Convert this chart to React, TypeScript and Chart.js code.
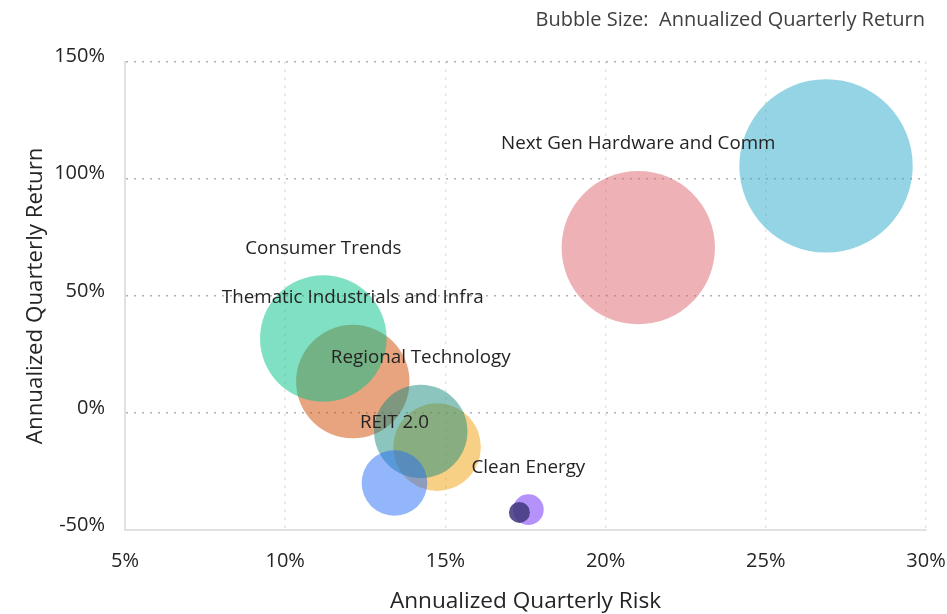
import React, { useEffect, useRef } from "react";
import { Chart, registerables } from "chart.js";

Chart.register(...registerables);

// Bubble order (drawing order): cyan, pink, sienna, mint, yellow, teal, blue, purple, navy
const bubbleLabels: string[] = [
  "",
  "Next Gen Hardware and Comm",
  "Thematic Industrials and Infra",
  "Consumer Trends",
  "",
  "Regional Technology",
  "REIT 2.0",
  "Clean Energy",
  "",
];
const riskValues: number[] = [26.88, 21.02, 12.11, 11.19, 14.74, 14.23, 13.41, 17.59, 17.31];
const returnValues: number[] = [105.5, 70.6, 13.4, 31.8, -14.6, -7.9, -29.9, -41.3, -42.5];
const bubbleRadius: number[] = [86.7, 76.7, 56.7, 63.3, 43.8, 46.7, 32.8, 15.3, 10.5];
const bubbleColors: string[] = [
  "rgba(41,169,203,0.5)",
  "rgba(221,101,109,0.5)",
  "rgba(209,71,0,0.5)",
  "rgba(0,193,137,0.5)",
  "rgba(239,159,11,0.5)",
  "rgba(23,139,125,0.5)",
  "rgba(39,107,245,0.5)",
  "rgba(107,35,245,0.5)",
  "rgba(68,58,128,0.88)",
];
const xTicks: number[] = [5, 10, 15, 20, 25, 30];
const yTicks: number[] = [-50, 0, 50, 100, 150];
const chartNote = "Bubble Size:  Annualized Quarterly Return";
const xTitle = "Annualized Quarterly Risk";
const yTitle = "Annualized Quarterly Return";

const FONT = "'Open Sans', 'Noto Sans', sans-serif";

export default function App() {
  const canvasRef = useRef<HTMLCanvasElement | null>(null);

  useEffect(() => {
    const canvas = canvasRef.current;
    if (!canvas) return;

    const noOverflowPlugin = {
      id: "noOverflow",
      beforeElementsUpdate(chart: any) {
        chart.data.datasets.forEach((_d: any, i: number) => {
          const meta = chart.getDatasetMeta(i);
          if (meta && meta.controller) meta.controller.getMaxOverflow = () => 0;
        });
      },
    };

    const labelPlugin = {
      id: "bubbleLabels",
      afterDatasetsDraw(chart: any) {
        const ctx = chart.ctx;
        const xs = chart.scales.x;
        const ys = chart.scales.y;
        ctx.save();
        ctx.font = `18.8px ${FONT}`;
        ctx.fillStyle = "#252423";
        ctx.textAlign = "center";
        ctx.textBaseline = "middle";
        bubbleLabels.forEach((lbl, i) => {
          if (!lbl) return;
          const px = xs.getPixelForValue(riskValues[i]);
          const py = ys.getPixelForValue(returnValues[i]);
          ctx.fillText(lbl, px, py - bubbleRadius[i] - 27);
        });
        ctx.restore();
      },
      afterDraw(chart: any) {
        const ctx = chart.ctx;
        ctx.save();
        ctx.font = `20px ${FONT}`;
        ctx.fillStyle = "#404040";
        ctx.textAlign = "right";
        ctx.textBaseline = "middle";
        ctx.fillText(chartNote, 925, 20);
        ctx.restore();
      },
    };

    const chart = new Chart(canvas, {
      type: "bubble",
      data: {
        datasets: [
          {
            data: riskValues.map((x, i) => ({ x, y: returnValues[i], r: bubbleRadius[i] })),
            backgroundColor: bubbleColors,
            borderWidth: 0,
            hoverBorderWidth: 0,
            clip: false as any,
          },
        ],
      },
      options: {
        animation: false,
        responsive: true,
        maintainAspectRatio: false,
        events: [],
        layout: { padding: { top: 61.7, right: 21, left: 0, bottom: 0 } },
        plugins: {
          legend: { display: false },
          tooltip: { enabled: false },
        },
        scales: {
          x: {
            type: "linear",
            min: 5,
            max: 30,
            afterBuildTicks: (scale: any) => {
              scale.ticks = xTicks.map((v) => ({ value: v }));
            },
            afterFit: (scale: any) => {
              scale.height = 84;
              scale.paddingLeft = 0;
              scale.paddingRight = 0;
            },
            ticks: {
              callback: (v: any) => `${v}%`,
              color: "#252423",
              font: { family: FONT, size: 20 },
              padding: 19,
              maxRotation: 0,
            },
            grid: {
              color: "rgba(210,210,210,0.75)",
              lineWidth: 1.5,
              drawTicks: false,
            },
            border: { display: true, color: "#e1e1e1", width: 2, dash: [2, 6] },
            title: {
              display: true,
              text: xTitle,
              color: "#252423",
              font: { family: FONT, size: 22.6 },
              padding: { top: 0, bottom: -1 },
            },
          },
          y: {
            type: "linear",
            min: -50,
            max: 150,
            afterBuildTicks: (scale: any) => {
              scale.ticks = yTicks.map((v) => ({ value: v }));
            },
            afterFit: (scale: any) => {
              scale.width = 125;
              scale.paddingTop = 0;
              scale.paddingBottom = 0;
            },
            ticks: {
              callback: (v: any) => `${v}%`,
              color: "#252423",
              font: { family: FONT, size: 20 },
              padding: 20,
              labelOffset: -5,
            },
            grid: {
              color: "#b0b0b0",
              lineWidth: 1.5,
              drawTicks: false,
            },
            border: { display: true, color: "#e1e1e1", width: 2, dash: [2, 6] },
            title: {
              display: true,
              text: yTitle,
              color: "#252423",
              font: { family: FONT, size: 22.3 },
              padding: { top: 22, bottom: 0 },
            },
          },
        },
      } as any,
      plugins: [noOverflowPlugin, labelPlugin],
    });

    return () => {
      chart.destroy();
    };
  }, []);

  return (
    <div style={{ position: "fixed", left: 0, top: 0, width: 947, height: 614 }}>
      <canvas ref={canvasRef} />
    </div>
  );
}
